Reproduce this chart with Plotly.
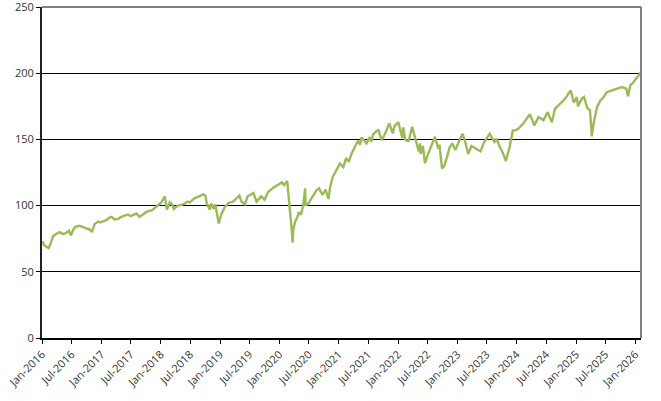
import plotly.graph_objects as go

dates = [
    "2016-01-04","2016-01-15","2016-01-27","2016-02-11","2016-02-25","2016-03-10","2016-03-28","2016-04-18",
    "2016-05-10","2016-05-30","2016-06-15","2016-06-27","2016-07-12","2016-07-25","2016-08-15","2016-09-09",
    "2016-09-30","2016-10-20","2016-11-03","2016-11-20","2016-12-10","2016-12-28",
    "2017-01-10","2017-01-30","2017-02-20","2017-03-05","2017-03-22","2017-04-15","2017-05-03","2017-05-25",
    "2017-06-13","2017-06-30","2017-07-14","2017-08-04","2017-08-24","2017-09-15","2017-10-04","2017-10-25",
    "2017-11-10","2017-11-25","2017-12-15",
    "2018-01-05","2018-01-26","2018-02-08","2018-02-26","2018-03-12","2018-03-23","2018-04-16","2018-05-08",
    "2018-05-29","2018-06-15","2018-06-29","2018-07-27","2018-08-28","2018-09-21","2018-10-03","2018-10-11",
    "2018-10-29","2018-11-08","2018-11-23","2018-12-03","2018-12-24",
    "2019-01-09","2019-01-31","2019-02-22","2019-03-22","2019-04-12","2019-04-30","2019-05-13","2019-06-03",
    "2019-06-20","2019-07-26","2019-08-14","2019-09-12","2019-10-02","2019-10-25","2019-11-25","2019-12-20",
    "2020-01-17","2020-01-31","2020-02-19","2020-02-28","2020-03-09","2020-03-16","2020-03-23","2020-03-27",
    "2020-04-08","2020-04-20","2020-04-30","2020-05-13","2020-05-27","2020-06-08","2020-06-11","2020-06-26",
    "2020-07-17","2020-08-17","2020-09-02","2020-09-23","2020-10-12","2020-10-30","2020-11-09","2020-11-25",
    "2020-12-10",
    "2021-01-08","2021-01-29","2021-02-16","2021-03-04","2021-03-20","2021-04-09","2021-04-30","2021-05-12",
    "2021-05-21","2021-06-21","2021-07-11","2021-07-19","2021-08-01","2021-08-22","2021-09-03","2021-09-22",
    "2021-10-12","2021-11-08","2021-11-30","2021-12-10",
    "2022-01-03","2022-01-13","2022-01-27","2022-02-02","2022-02-14","2022-02-24","2022-03-08","2022-03-29",
    "2022-04-15","2022-05-09","2022-05-16","2022-05-20","2022-06-03","2022-06-16","2022-07-02","2022-07-23",
    "2022-08-16","2022-09-06","2022-09-13","2022-09-29","2022-10-13","2022-10-28","2022-11-15","2022-12-01",
    "2022-12-20",
    "2023-01-10","2023-02-02","2023-02-17","2023-03-09","2023-03-29","2023-04-28","2023-05-24","2023-06-15",
    "2023-07-20","2023-08-17","2023-08-31","2023-09-20","2023-10-08","2023-10-27","2023-11-19","2023-12-09",
    "2023-12-29",
    "2024-01-11","2024-02-11","2024-03-23","2024-04-19","2024-05-15","2024-06-14","2024-07-10","2024-08-05",
    "2024-08-25","2024-09-25","2024-10-26","2024-11-29","2024-12-18",
    "2025-01-06","2025-01-13","2025-02-07","2025-02-19","2025-03-10","2025-03-28","2025-04-08","2025-04-19",
    "2025-05-10","2025-05-31","2025-06-20","2025-07-10","2025-08-10","2025-09-10","2025-10-11","2025-11-06",
    "2025-11-17","2025-12-01","2025-12-21",
    "2026-01-21","2026-02-04",
]

values = [
    73, 70, 69, 68, 72, 77, 78.5, 80,
    78.5, 79.5, 81, 77.5, 82, 84, 84.7, 84,
    82.7, 82, 80, 86, 87.8, 87.5,
    88, 89, 91, 91.5, 89.5, 90, 91.5, 92.5,
    93.3, 92, 92.7, 94, 91.5, 93.5, 95.2, 96,
    96.5, 98.2, 100,
    102.5, 107, 97, 102.5, 101, 97.5, 100, 100.5,
    101.5, 103, 102.5, 105.5, 107.5, 108.5, 107.5, 102,
    97, 101.5, 97.5, 101, 86.5,
    93.5, 99, 102, 103, 105.5, 107.5, 103, 101,
    107, 109.5, 103, 107, 104.5, 110.5, 113.5, 115.5,
    117.5, 115.5, 118.5, 106, 95, 84, 72, 82,
    88, 91, 95, 93, 100, 113, 100.5, 101,
    105.5, 111.5, 113, 108, 112, 105, 114, 121.6,
    125,
    131.7, 129, 136, 133, 139, 144, 149, 146,
    151.5, 147, 151.8, 148, 154, 156.3, 157, 149.5,
    154, 162, 154.5, 160,
    163, 158, 151, 159, 150, 149, 149, 159.5,
    152, 141, 147, 139, 145, 132, 138, 145,
    152, 143, 146, 128, 130, 136, 144, 147,
    142,
    148, 154.3, 149, 139, 145, 143, 141, 148,
    154.3, 148, 150.5, 144, 140, 133.7, 144.2, 156.8,
    157,
    158, 162, 169, 160.6, 166.9, 164.4, 170.6, 163,
    173.2, 177, 180.7, 187, 178,
    182, 175, 181, 182, 174, 172, 152.3, 162,
    174.4, 179.5, 182, 185.7, 187, 188.3, 189.5, 188.3,
    182.5, 190.8, 193.3,
    198.3, 200.8,
]

tick_dates = [f"{y}-{m:02d}-01" for y in range(2016, 2027) for m in (1, 7) if not (y == 2026 and m == 7)]
tick_labels = [("Jan-" if d[5:7] == "01" else "Jul-") + d[:4] for d in tick_dates]
y_ticks = [0, 50, 100, 150, 200, 250]

fig = go.Figure()
fig.add_trace(go.Scatter(
    x=dates, y=values, mode="lines",
    line=dict(color="#9BBB59", width=2.4),
    showlegend=False, hoverinfo="skip",
))

font = dict(family="Open Sans, DejaVu Sans, sans-serif", size=11, color="#333333")

fig.update_layout(
    width=661, height=401,
    margin=dict(l=42, r=20, t=7, b=63),
    paper_bgcolor="white", plot_bgcolor="white",
    font=font,
    xaxis=dict(
        type="date", range=["2016-01-01", "2026-02-05"],
        tickmode="array", tickvals=tick_dates, ticktext=tick_labels,
        tickangle=-45, showgrid=False, zeroline=False, automargin=False,
        showline=True, linecolor="#000000", linewidth=1.5,
        ticks="outside", ticklen=4, tickcolor="#000000", tickwidth=1,
        tickfont=font, ticklabeloverflow="allow",
    ),
    yaxis=dict(
        range=[0, 250], tickmode="array", tickvals=y_ticks,
        showgrid=True, gridcolor="#000000", gridwidth=1, zeroline=False, automargin=False,
        showline=True, linecolor="#222222", linewidth=2,
        ticks="outside", ticklen=4, tickcolor="#000000", tickwidth=1,
        tickfont=font, ticklabeloverflow="allow",
    ),
    shapes=[
        dict(type="line", xref="paper", yref="paper", x0=0, x1=1, y0=1, y1=1,
             line=dict(color="#808080", width=2), layer="above"),
        dict(type="line", xref="paper", yref="paper", x0=1, x1=1, y0=0, y1=1,
             line=dict(color="#808080", width=2), layer="above"),
    ],
)

fig.write_html("out.html", config={"displayModeBar": False},
               post_script="document.body.style.margin='0';")
